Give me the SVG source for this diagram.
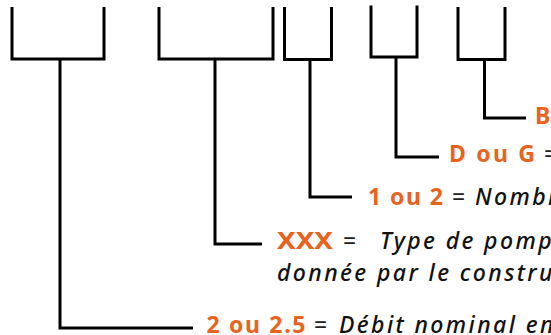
<svg xmlns="http://www.w3.org/2000/svg" width="551" height="335" viewBox="0 0 551 335">
<style>
.br{fill:none;stroke:#000;stroke-width:3;stroke-linejoin:miter;stroke-linecap:butt}
.cn{fill:none;stroke:#000;stroke-width:3;stroke-linejoin:miter;stroke-linecap:butt}
.key{font-family:"Noto Sans","Open Sans",sans-serif;font-weight:bold;font-size:23px;fill:#E8641E}
.eq{font-family:"Noto Sans","Open Sans",sans-serif;font-size:23px;fill:#222}
.desc{font-family:"Noto Sans","Open Sans",sans-serif;font-style:italic;font-weight:500;font-size:23px;fill:#111;letter-spacing:2.4px}
</style>
<rect width="551" height="335" fill="#fff"/>
<g id="bracket-1"><polyline class="br" points="12,7 12,59 104,59 104,7"/></g>
<g id="bracket-2"><polyline class="br" points="159,7 159,59 273,59 273,7"/></g>
<g id="bracket-3"><polyline class="br" points="284.5,7 284.5,59.5 331.5,59.5 331.5,7"/></g>
<g id="bracket-4"><polyline class="br" points="371,5.5 371,57 417,57 417,5.5"/></g>
<g id="bracket-5"><polyline class="br" points="458,7 458,59.5 505,59.5 505,7"/></g>
<g id="connectors">
<polyline class="cn" points="60,59 60,328 193,328"/>
<polyline class="cn" points="215,59 215,244 262,244"/>
<polyline class="cn" points="310,59.5 310,197 352,197"/>
<polyline class="cn" points="396,57 396,157 439,157"/>
<polyline class="cn" points="484.5,59.5 484.5,118 526,118"/>
</g>
<g id="label-5"><text class="key" x="535" y="124">B</text></g>
<g id="label-4"><text class="key" x="449" y="162" textLength="86">D ou G</text><text class="eq" x="544" y="162">=</text></g>
<g id="label-3"><text class="key" x="368" y="205" textLength="75">1 ou 2</text><text class="eq" x="452" y="205">=</text><text class="desc" x="475" y="205">Nombr</text></g>
<g id="label-2"><text class="key" x="277" y="249" textLength="56" lengthAdjust="spacingAndGlyphs">XXX</text><text class="eq" x="343" y="249">=</text><text class="desc" x="380" y="249">Type de pomp</text><text class="desc" x="277" y="281">donnée par le constru</text></g>
<g id="label-1"><text class="key" x="206.5" y="333" textLength="99">2 ou 2.5</text><text class="eq" x="314" y="333">=</text><text class="desc" x="339" y="333">Débit nominal en</text></g>
</svg>
